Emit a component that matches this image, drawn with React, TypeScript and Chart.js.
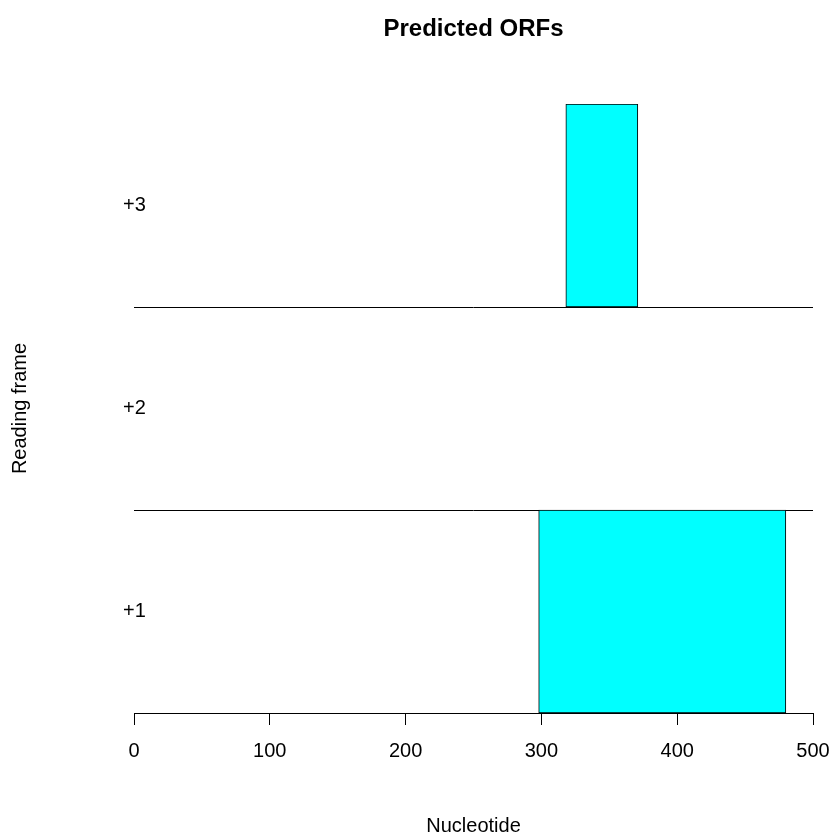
import React, { useEffect, useRef } from "react";
import { Chart, registerables } from "chart.js";

Chart.register(...registerables);

const frameLabels: string[] = ["+3", "+2", "+1"];
const orfStart: (number | null)[] = [318, null, 298];
const orfEnd: (number | null)[] = [371, null, 480];
const xTickMin = 0;
const xTickMax = 500;
const xTickStep = 100;

const FONT = "'Liberation Sans', Arial, Helvetica, sans-serif";

export default function App() {
  const ref = useRef<HTMLCanvasElement | null>(null);

  useEffect(() => {
    if (!ref.current) return;
    const data = frameLabels.map((_, i) =>
      orfStart[i] === null || orfEnd[i] === null ? null : [orfStart[i] as number, orfEnd[i] as number]
    );
    const chart = new Chart(ref.current, {
      type: "bar",
      data: {
        labels: frameLabels,
        datasets: [
          {
            data: data as any,
            backgroundColor: "#00FFFF",
            borderColor: "#000000",
            borderWidth: 1,
            borderSkipped: false,
            barPercentage: 1,
            categoryPercentage: 1,
          },
        ],
      },
      options: {
        indexAxis: "y",
        responsive: false,
        animation: false,
        layout: { padding: { top: 0, right: 19, bottom: 0, left: 0 } },
        plugins: {
          legend: { display: false },
          tooltip: { enabled: false },
          title: {
            display: true,
            text: "Predicted ORFs",
            fullSize: false,
            color: "#000",
            font: { family: FONT, size: 24, weight: "bold", lineHeight: 1.2 },
            padding: { top: 15, bottom: 60.2 },
          },
        },
        scales: {
          x: {
            type: "linear",
            min: xTickMin,
            max: xTickMax,
            afterFit: (scale: any) => {
              scale.paddingRight = 0;
            },
            ticks: {
              stepSize: xTickStep,
              color: "#000",
              padding: 14,
              maxRotation: 0,
              font: { family: FONT, size: 20, lineHeight: 1.2 },
            },
            grid: {
              drawOnChartArea: false,
              drawTicks: true,
              tickLength: 12,
              color: "#000",
              lineWidth: 1,
            },
            border: { display: true, color: "#000", width: 1 },
            title: {
              display: true,
              text: "Nucleotide",
              color: "#000",
              font: { family: FONT, size: 20, lineHeight: 0.8 },
              padding: { top: 41, bottom: 0 },
            },
          },
          y: {
            type: "category",
            offset: true,
            ticks: {
              mirror: true,
              padding: -11,
              color: "#000",
              font: { family: FONT, size: 20, lineHeight: 1.2 },
            },
            grid: {
              display: true,
              offset: true,
              drawTicks: false,
              drawOnChartArea: true,
              lineWidth: 1,
              color: (ctx: any) =>
                ctx.index === 1 || ctx.index === 2 ? "#000000" : "rgba(0,0,0,0)",
            },
            border: { display: false },
            title: {
              display: true,
              text: "Reading frame",
              color: "#000",
              font: { family: FONT, size: 20, lineHeight: 1.2 },
              padding: { top: 8, bottom: 124 },
            },
          },
        },
      },
    });
    return () => chart.destroy();
  }, []);

  return (
    <canvas
      ref={ref}
      width={832}
      height={834}
      style={{ position: "absolute", left: 0, top: 0, width: 832, height: 834, display: "block", background: "#fff" }}
    />
  );
}
